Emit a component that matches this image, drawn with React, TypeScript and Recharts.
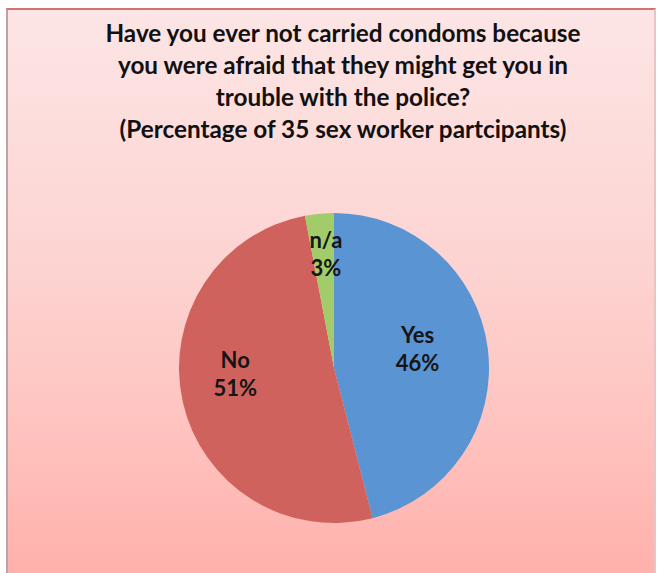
import React from "react";
import { PieChart, Pie, Cell } from "recharts";

const categories = ["Yes", "No", "n/a"];
const percentages = [46, 51, 3];
const titleLines = [
  "Have you ever not carried condoms because",
  "you were afraid that they might get you in",
  "trouble with the police?",
  "(Percentage of 35 sex worker partcipants)",
];

const sliceColors = ["#5B94D3", "#D0625E", "#A2CB6A"];
// label placement tweaks (style only): radius factor and pixel offsets
const labelStyle = [
  { rf: 0.55, dx: -1, dy: -8 },
  { rf: 0.62, dx: -5, dy: -15 },
  { rf: 0.76, dx: 3, dy: 3 },
];

const data = categories.map((name, i) => ({ name, value: percentages[i] }));

const RADIAN = Math.PI / 180;

const renderLabel = (props: any) => {
  const { cx, cy, midAngle, outerRadius, index, name, value } = props;
  const s = labelStyle[index];
  const r = outerRadius * s.rf;
  const x = cx + r * Math.cos(-midAngle * RADIAN) + s.dx;
  const y = cy + r * Math.sin(-midAngle * RADIAN) + s.dy;
  return (
    <text
      x={x}
      y={y}
      textAnchor="middle"
      fill="#151515"
      fontFamily="Lato, 'Open Sans', sans-serif"
      fontWeight={700}
      fontSize={22}
    >
      <tspan x={x} dy={-6}>{name}</tspan>
      <tspan x={x} dy={28}>{value}%</tspan>
    </text>
  );
};

export default function App() {
  return (
    <div style={{ position: "absolute", left: 0, top: 0, width: 658, height: 573, background: "#ffffff", overflow: "hidden" }}>
      <div
        style={{
          position: "absolute",
          left: 6,
          top: 8,
          width: 646,
          height: 570,
          borderTop: "2px solid #d2736f",
          borderLeft: "2px solid #b9a3a3",
          borderRight: "2px solid #e8c4c4",
          background: "linear-gradient(to bottom, #fde5e5 0%, #fcd6d4 40%, #ffc2be 75%, #ffb0ab 100%)",
        }}
      />
      <div
        style={{
          position: "absolute",
          left: 0,
          top: 17,
          width: 686,
          textAlign: "center",
          fontFamily: "Lato, 'Open Sans', sans-serif",
          fontWeight: 700,
          fontSize: 24.3,
          lineHeight: "32px",
          color: "#111111",
        }}
      >
        {titleLines.map((t, i) => (
          <div key={i}>{t}</div>
        ))}
      </div>
      <div style={{ position: "absolute", left: 0, top: 0 }}>
        <PieChart width={658} height={573} margin={{ top: 0, right: 0, bottom: 0, left: 0 }}>
          <Pie
            data={data}
            dataKey="value"
            nameKey="name"
            cx={334}
            cy={368}
            outerRadius={155}
            startAngle={90}
            endAngle={-270}
            stroke="none"
            isAnimationActive={false}
            labelLine={false}
            label={renderLabel}
          >
            {data.map((d, i) => (
              <Cell key={d.name} fill={sliceColors[i]} />
            ))}
          </Pie>
        </PieChart>
      </div>
    </div>
  );
}
